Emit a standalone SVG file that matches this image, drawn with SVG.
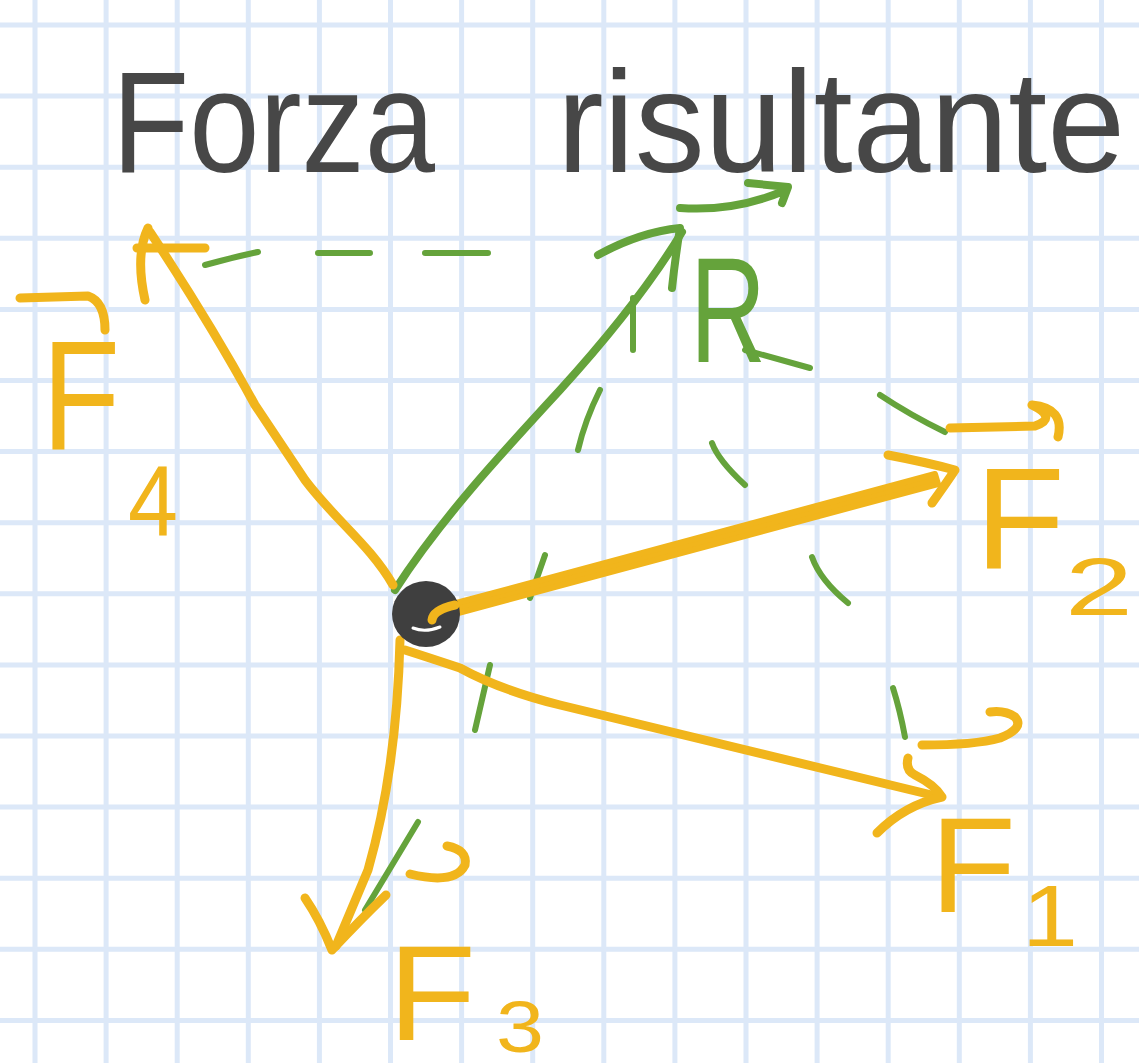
<svg xmlns="http://www.w3.org/2000/svg" width="1139" height="1063" viewBox="0 0 1139 1063">
<style>
.grid{stroke:#dce8f8;stroke-width:5;fill:none}
.y{stroke:#f1b51c;stroke-width:9;fill:none;stroke-linecap:round;stroke-linejoin:round}
.g{stroke:#65a33b;stroke-width:8;fill:none;stroke-linecap:round;stroke-linejoin:round}
.gd{stroke:#65a33b;stroke-width:6;fill:none;stroke-linecap:round}
.ty{fill:#f1b51c;font-family:"Liberation Sans",Arial,sans-serif}
.tg{fill:#65a33b;font-family:"Liberation Sans",Arial,sans-serif}
.title{fill:#474747;font-family:"Liberation Sans",Arial,sans-serif;font-size:145px}
</style>
<rect width="1139" height="1063" fill="#ffffff"/>
<path class="grid" d="M35,0V1063M106.1,0V1063M177.2,0V1063M248.3,0V1063M319.4,0V1063M390.5,0V1063M461.6,0V1063M532.7,0V1063M603.8,0V1063M674.9,0V1063M746,0V1063M817.1,0V1063M888.2,0V1063M959.3,0V1063M1030.4,0V1063M1101.5,0V1063M0,25H1139M0,96.1H1139M0,167.2H1139M0,238.3H1139M0,309.4H1139M0,380.5H1139M0,451.6H1139M0,522.7H1139M0,593.8H1139M0,664.9H1139M0,736H1139M0,807.1H1139M0,878.2H1139M0,949.3H1139M0,1020.4H1139"/>
<g id="title">
<text class="title" x="112" y="172" textLength="323" lengthAdjust="spacingAndGlyphs">Forza</text>
<text class="title" x="557" y="172" textLength="568" lengthAdjust="spacingAndGlyphs">risultante</text>
</g>
<g id="connectors">
<path class="gd" d="M205,265 Q230,258 258,252 M318,253 L370,253 M425,253 L488,253"/>
<path class="gd" d="M633,298 L633,350 M600,390 Q585,420 578,450 M545,555 L530,598 M490,665 L475,730 M418,822 L365,910"/>
<path class="gd" d="M745,350 L810,368 M880,395 Q910,415 945,432"/>
<path class="gd" d="M712,443 Q718,460 745,485 M812,557 Q820,580 848,603 M893,688 Q900,710 905,737"/>
<path class="g" d="M395,590 C440,520 500,455 560,390 C610,335 650,285 682,232"/>
<path class="g" d="M598,255 Q640,232 680,228 Q675,260 672,288"/>
<path class="y" d="M393,585 C370,545 335,520 305,480 L255,405 C225,350 195,300 150,232"/>
<path class="y" d="M145,300 Q135,255 148,228 M137,248 L205,248"/>
<path d="M432,620 Q433,608 460,602 L935,474 L938,484 L462,612 Z" fill="#f1b51c" stroke="#f1b51c" stroke-width="6" stroke-linejoin="round"/>
<path class="y" d="M888,455 Q925,462 955,470 Q945,485 932,503"/>
<path class="y" d="M405,650 Q430,658 460,668 Q500,690 560,705 L940,797" stroke-width="11"/>
<path class="y" d="M908,758 Q905,770 915,775 Q935,785 942,797 Q905,805 877,833"/>
<path class="y" d="M400,640 C398,720 388,800 368,870 L336,946" stroke-width="11"/>
<path class="y" d="M305,898 Q320,920 332,950 Q360,920 386,895"/>
</g>
<g id="origin">
<ellipse cx="426" cy="614" rx="34" ry="33" fill="#3f3f3f"/>
<path d="M413,628 Q425,633 440,627" stroke="#ffffff" stroke-width="3" fill="none" stroke-linecap="round"/>
<path d="M432,620 Q433,610 455,605" stroke="#f1b51c" stroke-width="9" fill="none" stroke-linecap="round"/>
</g>
<g id="label-R">
<text class="tg" x="690" y="362" font-size="150" textLength="76" lengthAdjust="spacingAndGlyphs">R</text>
<path class="g" d="M680,208 Q735,212 786,190 M748,183 L788,187 L782,203"/>
</g>
<g id="label-F4">
<path class="y" d="M20,298 L88,296 Q105,302 105,330"/>
<text class="ty" x="42" y="450" font-size="155" textLength="78" lengthAdjust="spacingAndGlyphs">F</text>
<text class="ty" x="128" y="536" font-size="100" textLength="50" lengthAdjust="spacingAndGlyphs">4</text>
</g>
<g id="label-F2">
<path class="y" d="M950,428 L1035,426 Q1058,418 1032,405 Q1065,408 1058,437"/>
<text class="ty" x="975" y="568" font-size="145" textLength="90" lengthAdjust="spacingAndGlyphs">F</text>
<text class="ty" x="1065" y="615" font-size="82" textLength="68" lengthAdjust="spacingAndGlyphs">2</text>
</g>
<g id="label-F1">
<path class="y" d="M922,745 Q975,745 1000,738 Q1025,728 1015,717 Q1005,710 990,712"/>
<text class="ty" x="930" y="912" font-size="135" textLength="86" lengthAdjust="spacingAndGlyphs">F</text>
<text class="ty" x="1022" y="946" font-size="88" textLength="56" lengthAdjust="spacingAndGlyphs">1</text>
</g>
<g id="label-F3">
<path class="y" d="M410,874 Q455,885 465,865 Q468,850 447,846"/>
<text class="ty" x="388" y="1040" font-size="135" textLength="88" lengthAdjust="spacingAndGlyphs">F</text>
<text class="ty" x="496" y="1052" font-size="72" textLength="48" lengthAdjust="spacingAndGlyphs">3</text>
</g>
</svg>
